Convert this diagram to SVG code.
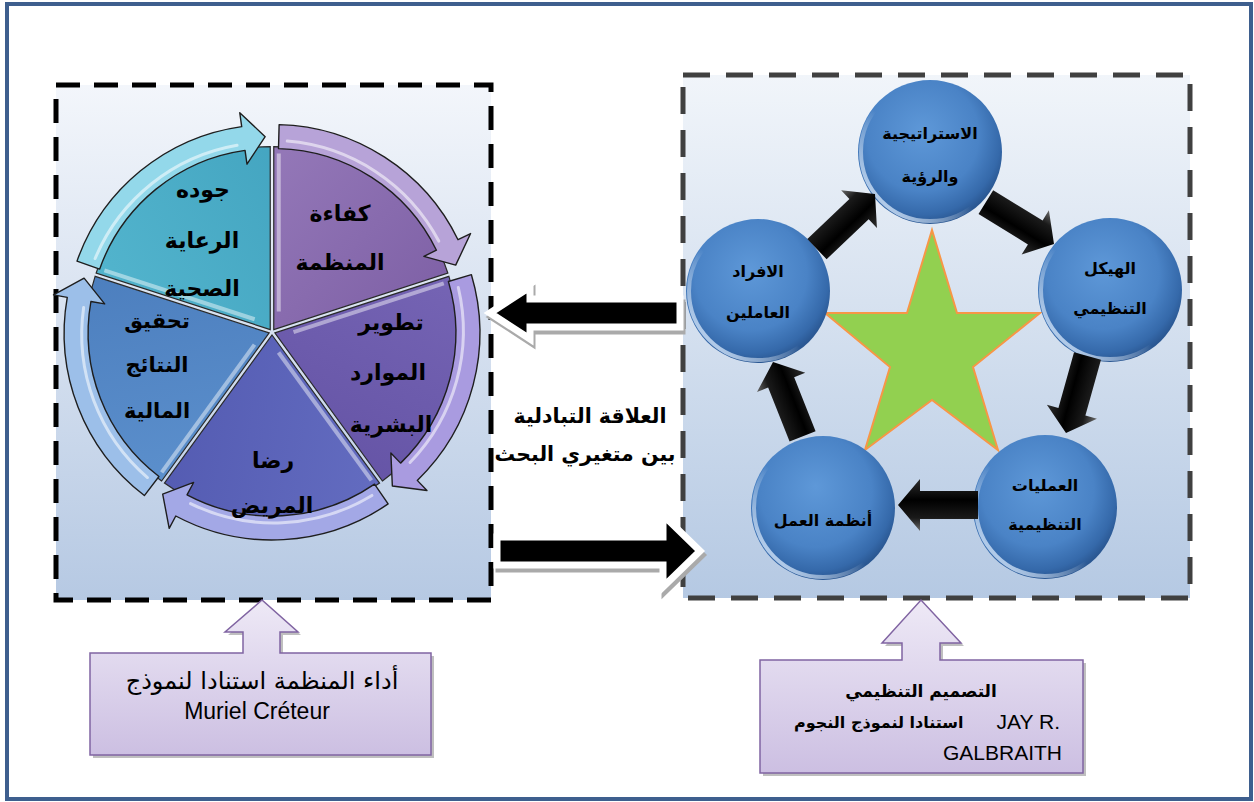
<svg xmlns="http://www.w3.org/2000/svg" xmlns:xlink="http://www.w3.org/1999/xlink" width="1254" height="802" viewBox="0 0 1254 802">
<style>
.ar{font-family:"DejaVu Sans","Liberation Sans",sans-serif;fill:#000}
.b{font-weight:bold}
.lat{font-family:"Liberation Sans",Arial,sans-serif;fill:#000}
.wedge{stroke:#2a2a2a;stroke-width:1.2}
.band{stroke:#1e1e1e;stroke-width:1.4;stroke-linejoin:round}
.hl{fill:none;stroke:#fff;stroke-opacity:.55;stroke-width:3;stroke-linecap:round}
.edge{fill:none;stroke:#fff;stroke-opacity:.45;stroke-width:4}
.circ{fill:url(#gCirc)}
.rim{fill:none;stroke:url(#gRim);stroke-width:4}
.barrow{fill:url(#gBlack)}
.callout{fill:url(#gCall);stroke:#8064a2;stroke-width:1.5}
</style>
<defs>
<linearGradient id="gBoxL" x1="0" y1="0" x2="0" y2="1">
<stop offset="0" stop-color="#f3f6fb"/><stop offset="1" stop-color="#b6c9e3"/>
</linearGradient>
<linearGradient id="gBoxR" x1="0" y1="0" x2="0" y2="1">
<stop offset="0" stop-color="#f1f5fa"/><stop offset="1" stop-color="#b5c9e3"/>
</linearGradient>
<linearGradient id="gCall" x1="0" y1="0" x2="0" y2="1">
<stop offset="0" stop-color="#eee9f6"/><stop offset="1" stop-color="#ccbfe2"/>
</linearGradient>
<radialGradient id="gCirc" cx="0.45" cy="0.4" r="0.6" fx="0.45" fy="0.35">
<stop offset="0" stop-color="#5e98d8"/><stop offset="0.65" stop-color="#4a83c6"/><stop offset="0.9" stop-color="#3569aa"/><stop offset="1" stop-color="#2a5792"/>
</radialGradient>
<linearGradient id="gRim" x1="1" y1="0" x2="0" y2="1">
<stop offset="0" stop-color="#ffffff" stop-opacity="0"/><stop offset="0.55" stop-color="#ffffff" stop-opacity="0"/><stop offset="0.85" stop-color="#cfe2f8" stop-opacity="0.8"/><stop offset="1" stop-color="#ffffff" stop-opacity="0.5"/>
</linearGradient>
<linearGradient id="gBlack" x1="0" y1="0" x2="0" y2="1">
<stop offset="0" stop-color="#6a6a6a"/><stop offset="0.25" stop-color="#1a1a1a"/><stop offset="0.6" stop-color="#000"/><stop offset="1" stop-color="#2e2e2e"/>
</linearGradient>
<linearGradient id="wK" x1="0" y1="0" x2="1" y2="1"><stop offset="0" stop-color="#9478b8"/><stop offset="1" stop-color="#7c5ea4"/></linearGradient>
<linearGradient id="wT" x1="0" y1="0" x2="1" y2="1"><stop offset="0" stop-color="#7564b4"/><stop offset="1" stop-color="#6352a4"/></linearGradient>
<linearGradient id="wR" x1="0" y1="0" x2="1" y2="1"><stop offset="0" stop-color="#636cc0"/><stop offset="1" stop-color="#5259b0"/></linearGradient>
<linearGradient id="wQ" x1="0" y1="0" x2="1" y2="1"><stop offset="0" stop-color="#5b8fcc"/><stop offset="1" stop-color="#4a7cbc"/></linearGradient>
<linearGradient id="wJ" x1="0" y1="0" x2="1" y2="1"><stop offset="0" stop-color="#52b4cd"/><stop offset="1" stop-color="#42a3bf"/></linearGradient>
<path id="wedge" d="M0 0 L0 -183 A183 183 0 0 1 174.05 -56.55 Z"/>
<path id="band" d="M5.37 -204.93 A205 205 0 0 1 184.25 -89.87 L196.83 -96.00 L181.93 -64.43 L150.10 -73.21 L162.68 -79.34 A181 181 0 0 0 4.74 -180.94 Z"/>
<path id="bandhl" d="M13.46 -188.5 A189 189 0 0 1 165 -88.5"/>
<path id="wedgeedge" d="M5 -18 L5 -176"/>
<path id="blk" d="M0 0 L-22 -26 L-22 -14 L-80 -14 L-80 14 L-22 14 L-22 26 Z"/>
</defs>

<rect x="0" y="0" width="1254" height="802" fill="#fff"/>
<rect x="7" y="4" width="1244" height="795" fill="#fff" stroke="#3e5f8e" stroke-width="4"/>

<!-- Left box: organisational performance pie -->
<g id="box-left">
<rect x="56" y="85" width="435" height="515" fill="url(#gBoxL)" stroke="#000" stroke-width="5" stroke-dasharray="24 14"/>
</g>

<g id="pie" transform="translate(272,332)">
<g id="seg-K" transform="rotate(0) translate(1.76,-2.43)"><use xlink:href="#wedge" class="wedge" fill="url(#wK)"/><use xlink:href="#wedgeedge" class="edge"/><use xlink:href="#band" class="band" fill="#b7a3d8"/><use xlink:href="#bandhl" class="hl"/></g>
<g id="seg-T" transform="rotate(72) translate(1.76,-2.43)"><use xlink:href="#wedge" class="wedge" fill="url(#wT)"/><use xlink:href="#wedgeedge" class="edge"/><use xlink:href="#band" class="band" fill="#a99be0"/><use xlink:href="#bandhl" class="hl"/></g>
<g id="seg-R" transform="rotate(144) translate(1.76,-2.43)"><use xlink:href="#wedge" class="wedge" fill="url(#wR)"/><use xlink:href="#wedgeedge" class="edge"/><use xlink:href="#band" class="band" fill="#a3a8e6"/><use xlink:href="#bandhl" class="hl"/></g>
<g id="seg-Q" transform="rotate(216) translate(1.76,-2.43)"><use xlink:href="#wedge" class="wedge" fill="url(#wQ)"/><use xlink:href="#wedgeedge" class="edge"/><use xlink:href="#band" class="band" fill="#9cbfe9"/><use xlink:href="#bandhl" class="hl"/></g>
<g id="seg-J" transform="rotate(288) translate(1.76,-2.43)"><use xlink:href="#wedge" class="wedge" fill="url(#wJ)"/><use xlink:href="#wedgeedge" class="edge"/><use xlink:href="#band" class="band" fill="#93d8ea"/><use xlink:href="#bandhl" class="hl"/></g>
</g>

<g id="pie-labels" class="ar b" font-size="22" text-anchor="middle">
<text x="340" y="221">كفاءة</text>
<text x="340" y="270">المنظمة</text>
<text x="391" y="330">تطوير</text>
<text x="388" y="380">الموارد</text>
<text x="391" y="432">البشرية</text>
<text x="273" y="468">رضا</text>
<text x="272" y="513">المريض</text>
<text x="157" y="328" font-size="21">تحقيق</text>
<text x="157" y="372" font-size="21">النتائج</text>
<text x="157" y="418" font-size="21">المالية</text>
<text x="203" y="197">جوده</text>
<text x="202" y="248">الرعاية</text>
<text x="202" y="296">الصحية</text>
</g>

<!-- Right box: star model -->
<g id="box-right">
<rect x="683" y="75" width="507" height="523" fill="url(#gBoxR)" stroke="#404040" stroke-width="5" stroke-dasharray="27 16"/>
</g>

<g id="star">
<polygon points="932,230 957,313 1040,313 973,367 998,450 932,400 865,450 890,367 825,313 907,313" fill="#92d050" stroke="#f79646" stroke-width="2" stroke-linejoin="miter"/>
</g>

<g id="node-strategy"><circle cx="930" cy="152" r="72" class="circ"/><circle cx="930" cy="152" r="69" class="rim"/>
<text class="ar b" font-size="16" text-anchor="middle" x="930" y="139">الاستراتيجية</text>
<text class="ar b" font-size="16" text-anchor="middle" x="930" y="182">والرؤية</text></g>
<g id="node-structure"><circle cx="1110" cy="290" r="72" class="circ"/><circle cx="1110" cy="290" r="69" class="rim"/>
<text class="ar b" font-size="16" text-anchor="middle" x="1110" y="274">الهيكل</text>
<text class="ar b" font-size="16" text-anchor="middle" x="1110" y="314">التنظيمي</text></g>
<g id="node-processes"><circle cx="1045" cy="507" r="72" class="circ"/><circle cx="1045" cy="507" r="69" class="rim"/>
<text class="ar b" font-size="16" text-anchor="middle" x="1045" y="491">العمليات</text>
<text class="ar b" font-size="16" text-anchor="middle" x="1045" y="530">التنظيمية</text></g>
<g id="node-systems"><circle cx="823" cy="508" r="72" class="circ"/><circle cx="823" cy="508" r="69" class="rim"/>
<text class="ar b" font-size="16" text-anchor="middle" x="823" y="526">أنظمة العمل</text></g>
<g id="node-people"><circle cx="758" cy="291" r="72" class="circ"/><circle cx="758" cy="291" r="69" class="rim"/>
<text class="ar b" font-size="16" text-anchor="middle" x="758" y="277">الافراد</text>
<text class="ar b" font-size="16" text-anchor="middle" x="758" y="318">العاملين</text></g>

<g id="connectors">
<use xlink:href="#blk" class="barrow" transform="translate(875,194) rotate(-43.5)"/>
<use xlink:href="#blk" class="barrow" transform="translate(1054,244) rotate(31.6)"/>
<use xlink:href="#blk" class="barrow" transform="translate(1066,433) rotate(105.6)"/>
<use xlink:href="#blk" class="barrow" transform="translate(898,505) rotate(180)"/>
<use xlink:href="#blk" class="barrow" transform="translate(773,362) rotate(-111.7)"/>
<!-- middle exchange arrows -->
<path d="M490 313 L530 287 L530 299 L680 299 L680 327 L530 327 L530 339 Z" transform="translate(2,4)" fill="#aaa" stroke="#aaa" stroke-width="7" stroke-linejoin="miter"/>
<path d="M490 313 L530 287 L530 299 L680 299 L680 327 L530 327 L530 339 Z" fill="#000" stroke="#fff" stroke-width="7" stroke-linejoin="miter"/>
<path d="M700 551 L663 515 L663 537 L497 537 L497 565 L663 565 L663 587 Z" transform="translate(2,4)" fill="#aaa" stroke="#aaa" stroke-width="7" stroke-linejoin="miter"/>
<path d="M700 551 L663 515 L663 537 L497 537 L497 565 L663 565 L663 587 Z" fill="#000" stroke="#fff" stroke-width="7" stroke-linejoin="miter"/>
</g>

<g id="relation-label" class="ar b" font-size="20.5" text-anchor="middle">
<text x="590" y="423">العلاقة التبادلية</text>
<text x="585" y="461">بين متغيري البحث</text>
</g>

<g id="callout-left">
<path d="M90 653 L243 653 L243 632 L225 632 L262 600 L298 632 L280 632 L280 653 L431 653 L431 755 L90 755 Z" transform="translate(3,3)" fill="#000" fill-opacity="0.25"/>
<path d="M90 653 L243 653 L243 632 L225 632 L262 600 L298 632 L280 632 L280 653 L431 653 L431 755 L90 755 Z" class="callout"/>
<text class="ar" font-size="24" text-anchor="middle" x="262" y="689">أداء المنظمة استنادا لنموذج</text>
<text class="lat" font-size="23" text-anchor="middle" x="257" y="719">Muriel Créteur</text>
</g>

<g id="callout-right">
<path d="M760 660 L902 660 L902 643 L882 643 L921 600 L961 643 L940 643 L940 660 L1083 660 L1083 773 L760 773 Z" transform="translate(3,3)" fill="#000" fill-opacity="0.25"/>
<path d="M760 660 L902 660 L902 643 L882 643 L921 600 L961 643 L940 643 L940 660 L1083 660 L1083 773 L760 773 Z" class="callout"/>
<text class="ar b" font-size="17" text-anchor="middle" x="921" y="697">التصميم التنظيمي</text>
<text class="ar b" font-size="16" text-anchor="start" x="794" y="728">استنادا لنموذج  النجوم</text>
<text class="lat" font-size="21" text-anchor="end" x="1060" y="729">JAY R.</text>
<text class="lat" font-size="21" text-anchor="end" x="1062" y="760">GALBRAITH</text>
</g>
</svg>
